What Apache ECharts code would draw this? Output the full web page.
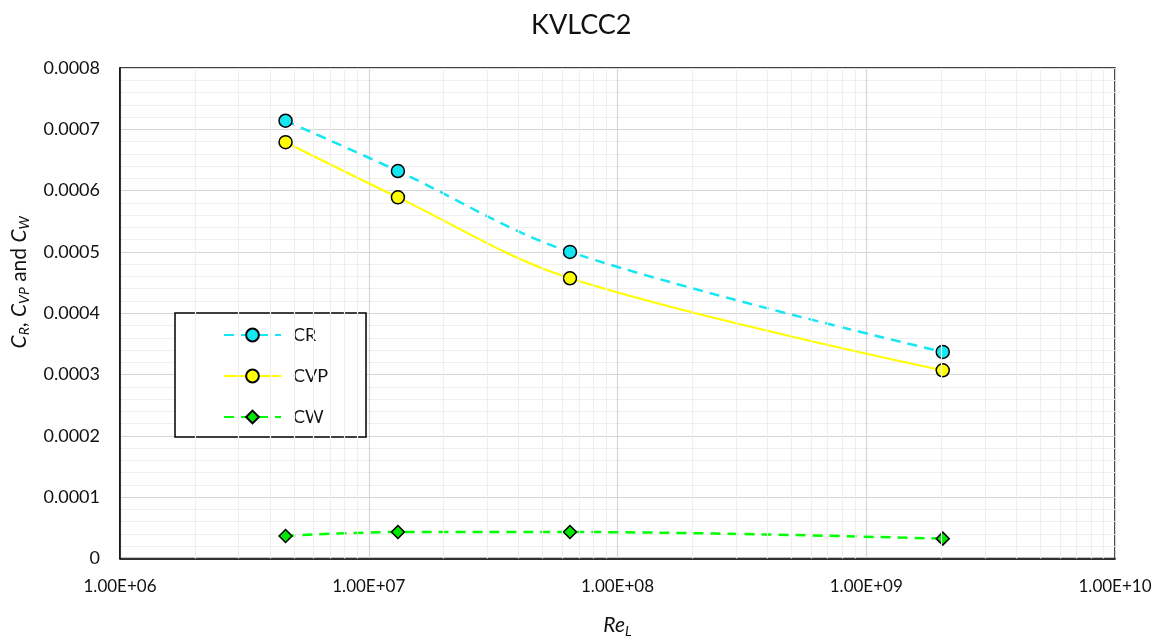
<!DOCTYPE html>
<html>
<head>
<meta charset="utf-8">
<script src="https://cdn.jsdelivr.net/npm/echarts@6/dist/echarts.min.js"></script>
<style>
  html, body { margin: 0; padding: 0; background: #fff; }
  #chart { width: 1166px; height: 643px; }
</style>
</head>
<body>
<div id="chart"></div>
<script>
// Reynolds numbers of the four cases
const reynolds = [4.63e6, 1.31e7, 6.44e7, 2.03e9];
// Resistance coefficients
const crValues  = [0.000714, 0.000632, 0.000500, 0.000337];
const cvpValues = [0.000679, 0.000589, 0.000457, 0.000307];
const cwValues  = [0.0000368, 0.0000432, 0.0000432, 0.0000324];
const seriesNames = ['CR', 'CVP', 'CW'];
const xRange = [1e6, 1e10];
const yRange = [0, 0.0008];
const yStep = 0.0001;

const FONT = 'Lato, "Open Sans", sans-serif';
const TEXT = '#111';

// minor log gridlines: 2..9 within every decade
const minorX = [];
for (let e = Math.log10(xRange[0]); e < Math.log10(xRange[1]); e++) {
  for (let m = 2; m <= 9; m++) minorX.push({ xAxis: m * Math.pow(10, e) });
}

function pairs(ys) { return reynolds.map((x, i) => [x, ys[i]]); }

function sciLabel(v) {
  const e = Math.round(Math.log10(v));
  const m = v / Math.pow(10, e);
  const sign = e < 0 ? '-' : '+';
  return m.toFixed(2) + 'E' + sign + String(Math.abs(e)).padStart(2, '0');
}

const chart = echarts.init(document.getElementById('chart'), null, { renderer: 'canvas' });
chart.setOption({
  backgroundColor: '#fff',
  animation: false,
  title: {
    text: 'KVLCC2',
    left: 526, top: 7,
    textStyle: { fontFamily: FONT, fontSize: 27, fontWeight: 'normal', color: TEXT }
  },
  grid: {
    left: 120, right: 51, top: 68, bottom: 81,
    show: true, borderColor: '#000', borderWidth: 1.5, backgroundColor: 'transparent'
  },
  legend: {
    data: seriesNames,
    orient: 'vertical',
    left: 175, top: 313,
    padding: [13, 38, 11, 48],
    itemWidth: 57, itemHeight: 16, itemGap: 23,
    backgroundColor: '#fff',
    borderColor: '#000', borderWidth: 1.5,
    textStyle: { fontFamily: FONT, fontSize: 18, color: TEXT, padding: [0, 0, 0, 7] }
  },
  xAxis: {
    type: 'log', logBase: 10,
    min: xRange[0], max: xRange[1],
    name: '{m|Re}{sub|L}',
    nameLocation: 'middle', nameGap: 54,
    nameTextStyle: {
      fontFamily: FONT, fontSize: 21, fontStyle: 'italic', color: TEXT,
      rich: {
        m: { fontFamily: FONT, fontSize: 21, fontStyle: 'italic', color: TEXT, lineHeight: 26 },
        sub: { fontFamily: FONT, fontSize: 14, fontStyle: 'italic', color: TEXT, padding: [11, 0, 0, 0] }
      }
    },
    axisLine: { show: true, lineStyle: { color: '#000', width: 1.5 } },
    axisTick: { show: false },
    axisLabel: { fontFamily: FONT, fontSize: 17, color: TEXT, margin: 20, formatter: sciLabel },
    splitLine: { show: true, lineStyle: { color: '#d6d6d6', width: 1.2 } }
  },
  yAxis: {
    type: 'value',
    min: yRange[0], max: yRange[1], interval: yStep,
    name: '{i|C}{s|R}{n|, }{i|C}{s|VP}{n| and }{i|C}{s|W}',
    nameLocation: 'middle', nameGap: 88, nameRotate: 90,
    nameTextStyle: {
      fontFamily: FONT, fontSize: 21, color: TEXT,
      padding: [0, 0, 0, 62],
      rich: {
        i: { fontFamily: FONT, fontSize: 21, fontStyle: 'italic', color: TEXT, lineHeight: 26 },
        n: { fontFamily: FONT, fontSize: 21, color: TEXT, lineHeight: 26 },
        s: { fontFamily: FONT, fontSize: 14, fontStyle: 'italic', color: TEXT, padding: [11, 0, 0, 0] }
      }
    },
    axisLine: { show: true, lineStyle: { color: '#000', width: 1.5 } },
    axisTick: { show: false },
    axisLabel: {
      fontFamily: FONT, fontSize: 18, color: TEXT, margin: 20,
      formatter: v => (v === 0 ? '0' : v.toFixed(4))
    },
    splitLine: { show: true, lineStyle: { color: '#d6d6d6', width: 1.2 } },
    minorTick: { show: false, splitNumber: 5 },
    minorSplitLine: { show: true, lineStyle: { color: '#efefef', width: 1.2 } }
  },
  series: [
    {
      name: 'minor-grid', type: 'line', data: [], z: 1, silent: true,
      markLine: {
        silent: true, symbol: ['none', 'none'], label: { show: false },
        lineStyle: { color: '#efefef', width: 1.2, type: 'solid' },
        data: minorX
      }
    },
    {
      name: 'CR', type: 'line', z: 3, smooth: 0.35,
      data: pairs(crValues),
      symbol: 'circle', symbolSize: 13,
      lineStyle: { color: '#14e6f2', width: 2.5, type: [10, 7] },
      itemStyle: { color: '#14e6f2', borderColor: '#000', borderWidth: 1.5 }
    },
    {
      name: 'CVP', type: 'line', z: 4, smooth: 0.35,
      data: pairs(cvpValues),
      symbol: 'circle', symbolSize: 13,
      lineStyle: { color: '#ffff00', width: 2.2, type: 'solid' },
      itemStyle: { color: '#ffff00', borderColor: '#000', borderWidth: 1.5 }
    },
    {
      name: 'CW', type: 'line', z: 3, smooth: 0.35,
      data: pairs(cwValues),
      symbol: 'diamond', symbolSize: 13,
      lineStyle: { color: '#00ff00', width: 2.5, type: [10, 7] },
      itemStyle: { color: '#00e600', borderColor: '#000', borderWidth: 1.5 }
    }
  ]
});
</script>
</body>
</html>
